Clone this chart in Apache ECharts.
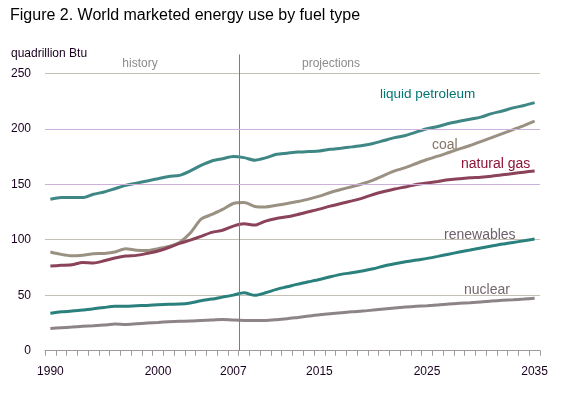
<!DOCTYPE html>
<html>
<head>
<meta charset="utf-8">
<script src="https://cdn.jsdelivr.net/npm/echarts@6/dist/echarts.min.js"></script>
<style>html,body{margin:0;padding:0;background:#fff}#c{width:571px;height:395px}</style>
</head>
<body>
<div id="c"></div>
<script>
const years = [];
for (let y = 1990; y <= 2035; y++) years.push(String(y));
const shownYears = ['1990', '2000', '2007', '2015', '2025', '2035'];
const yTicks = [0, 50, 100, 150, 200, 250];
const lavenderGrid = [150, 200];

const liquids = [136.5,138,138,138,141,143,146,149,151,153,155,157,158,162,167,171,173,175,174,171.7,173.8,177,178,179,179.5,180,181.5,182.5,183.7,185,186.8,189.4,192,194,197,200,202,204.7,206.8,208.6,210.5,213.7,216,218.8,221,223.6];
const coal = [89,86.8,85.5,86,87.3,87.7,89,91.8,90.6,90.3,92,94,97.6,106,118.5,122.8,127.3,132.7,133.5,130,129.5,131,132.7,134.5,136.6,139.3,142.6,145.3,147.8,150.5,153.8,158,162,165,168.7,172.3,175.3,178.6,181.9,184.9,188.5,192,195.7,199.3,202.9,206.8];
const naturalGas = [76.3,76.9,77.4,79.6,79,81,83.5,85.3,85.9,87.7,89.8,93,96.7,99.7,103,106.6,108.5,112.3,114.3,113.2,116.8,119.2,120.7,122.8,125.2,127.6,130.3,132.7,135,137.5,140.8,143.5,145.8,147.6,149.8,151.2,152.5,154,154.9,155.8,156.4,157.3,158.5,159.7,160.9,162];
const renewables = [33.7,35,35.7,36.6,37.8,39,40,40,40.5,40.8,41.4,41.8,42,43,45,46.5,48.3,50.1,52.2,49.9,52.2,55.3,57.6,60,62.1,64.2,66.6,68.8,70.2,71.8,73.8,76.3,78.3,80.1,81.7,83.2,85,87,88.9,90.7,92.5,94.3,96.1,97.6,99,100.6];
const nuclear = [20.1,20.7,21.3,22,22.5,23.1,24,23.7,24.3,24.9,25.5,26.1,26.5,26.7,27.3,27.6,28.2,27.6,27.3,27.3,27.3,27.9,28.8,30,31.2,32.4,33.3,34.2,35.1,35.7,36.6,37.5,38.4,39.3,40,40.5,41.1,42,42.7,43.2,43.8,44.7,45.4,45.9,46.5,47.2];
const dividerYear = 2007.5;
const dividerTop = 267;

const font = 'Liberation Sans, Arial, sans-serif';
const chart = echarts.init(document.getElementById('c'), null, {renderer: 'canvas'});

function mk(name, data, color) {
  return {
    name, type: 'line', data, xAxisIndex: 0, yAxisIndex: 0,
    symbol: 'none', smooth: 0.25, z: 3,
    lineStyle: {color, width: 3}, itemStyle: {color}
  };
}

chart.setOption({
  animation: false,
  backgroundColor: '#fff',
  title: [
    {text: 'Figure 2. World marketed energy use by fuel type', left: 5, top: 3,
     textStyle: {fontSize: 16, fontWeight: 'normal', color: '#000', fontFamily: font}},
    {text: 'quadrillion Btu', left: 6, top: 43,
     textStyle: {fontSize: 12, fontWeight: 'normal', color: '#1a0020', fontFamily: font}}
  ],
  grid: {left: 45, right: 31, top: 73.3, bottom: 44.3},
  xAxis: [{
    type: 'category', data: years, boundaryGap: true,
    axisLine: {lineStyle: {color: '#a09a9a', width: 1}},
    axisTick: {show: true, interval: 0, length: 5, lineStyle: {color: '#a09a9a'}},
    axisLabel: {interval: (i, v) => shownYears.includes(v), color: '#1a0020', fontSize: 12, fontFamily: font, margin: 15},
    splitLine: {show: false}
  }, {
    type: 'value', min: 1989.5, max: 2035.5, show: false
  }],
  yAxis: {
    type: 'value', min: yTicks[0], max: yTicks[yTicks.length - 1], interval: 50,
    axisLine: {show: false}, axisTick: {show: false},
    axisLabel: {color: '#1a0020', fontSize: 12, fontFamily: font, margin: 14},
    splitLine: {show: true, lineStyle: {color: '#c4c0b4', width: 1}}
  },
  series: [
    mk('liquid petroleum', liquids, '#3f8784'),
    mk('coal', coal, '#9a9182'),
    mk('natural gas', naturalGas, '#8a4358'),
    mk('renewables', renewables, '#2a807c'),
    mk('nuclear', nuclear, '#8d8487'),
    {
      type: 'line', data: [], xAxisIndex: 1, yAxisIndex: 0, silent: true, z: 1,
      markLine: {
        symbol: 'none', silent: true, label: {show: false},
        lineStyle: {color: '#cdb0dc', width: 1, type: 'solid'},
        data: lavenderGrid.map(v => ({yAxis: v}))
      }
    }
  ],
  graphic: [
    {type: 'text', style: {x: 140, y: 64, text: 'history', align: 'center', verticalAlign: 'middle', fill: '#8c8c8c', font: '12px ' + font}},
    {type: 'text', style: {x: 331, y: 64, text: 'projections', align: 'center', verticalAlign: 'middle', fill: '#8c8c8c', font: '12px ' + font}},
    {type: 'text', style: {x: 380, y: 94, text: 'liquid petroleum', verticalAlign: 'middle', fill: '#007470', font: '13.5px ' + font}},
    {type: 'text', style: {x: 432, y: 145, text: 'coal', verticalAlign: 'middle', fill: '#857565', font: '14px ' + font}},
    {type: 'text', style: {x: 461, y: 164, text: 'natural gas', verticalAlign: 'middle', fill: '#8c1236', font: '14px ' + font}},
    {type: 'text', style: {x: 444, y: 235, text: 'renewables', verticalAlign: 'middle', fill: '#6e606c', font: '14px ' + font}},
    {type: 'text', style: {x: 464, y: 290, text: 'nuclear', verticalAlign: 'middle', fill: '#75666f', font: '14px ' + font}}
  ]
});

// vertical divider between history and projections, positioned through the axes' scales
const dx = chart.convertToPixel({xAxisIndex: 1}, dividerYear);
const dyBottom = chart.convertToPixel({yAxisIndex: 0}, 0);
const dyTop = chart.convertToPixel({yAxisIndex: 0}, dividerTop);
chart.setOption({
  graphic: [{
    type: 'line', id: 'divider', z: 5, silent: true,
    shape: {x1: Math.round(dx) + 0.5, y1: dyTop, x2: Math.round(dx) + 0.5, y2: dyBottom},
    style: {stroke: '#8a7878', lineWidth: 1}
  }]
});
</script>
</body>
</html>
